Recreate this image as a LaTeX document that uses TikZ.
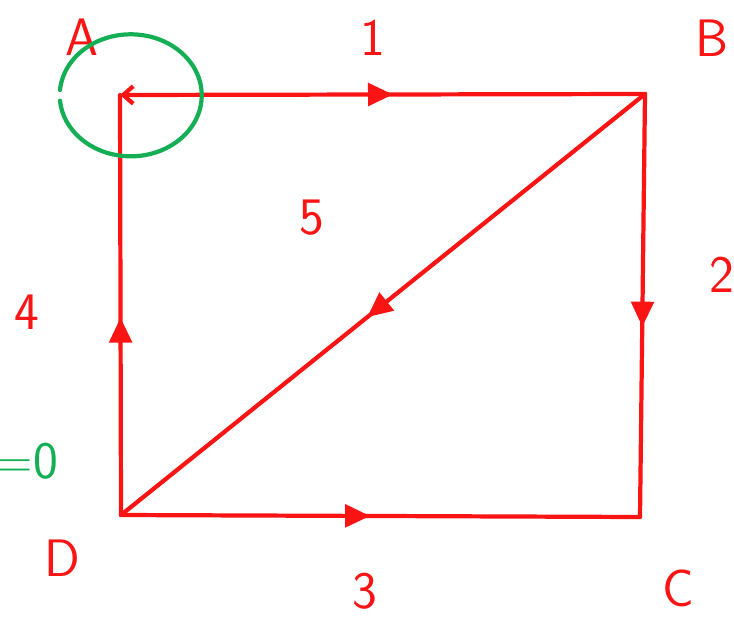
\documentclass[tikz,border=0pt]{standalone}
\usepackage{tikz}
\usetikzlibrary{arrows.meta,decorations.markings}

\definecolor{penred}{RGB}{250,20,20}
\definecolor{pengreen}{RGB}{20,175,85}

\begin{document}
\begin{tikzpicture}[
  x=0.02cm, y=-0.02cm,
  font=\fontsize{30}{34}\selectfont\sffamily,
  >={Triangle[length=5mm, width=4.5mm]},
  edge/.style={penred, line width=2.4pt, line cap=round, postaction={decorate},
    decoration={markings, mark=at position #1 with {\arrow{>}}}},
  edge/.default=0.5,
  vlabel/.style={penred},
  elabel/.style={penred},
  note/.style={pengreen},
]
  % page frame
  \useasboundingbox (0,0) rectangle (734,619);

  % corners of the square
  \coordinate (nA) at (120,95);
  \coordinate (nB) at (645,94);
  \coordinate (nC) at (640,517);
  \coordinate (nD) at (121,515);

  % vertex names
  \node[vlabel] (labA) at (82,37) {A};
  \node[vlabel] (labB) at (712,38) {B};
  \node[vlabel] (labC) at (678,588) {C};
  \node[vlabel] (labD) at (62,558) {D};

  % edges, each with its direction mark
  \draw[edge=0.52, {Straight Barb[length=2mm, width=3.5mm]}-] (nA) -- (nB);
  \draw[edge=0.55] (nB) -- (nC);
  \draw[edge=0.48] (nD) -- (nC);
  \draw[edge=0.47] (nD) -- (nA);
  \draw[edge=0.53] (nB) -- (nD);

  % edge numbers
  \node[elabel] (e1) at (373,38) {1};
  \node[elabel] (e2) at (722,275) {2};
  \node[elabel] (e3) at (365,591) {3};
  \node[elabel] (e4) at (27,312) {4};
  \node[elabel] (e5) at (312,218) {5};

  % start vertex ringed in green
  \draw[pengreen, line width=2.4pt, line cap=round]
    (60,90) arc[start angle=185, end angle=535, x radius=71, y radius=61];
  \node[note, anchor=east] (zero) at (64,461) {=0};
\end{tikzpicture}
\end{document}
